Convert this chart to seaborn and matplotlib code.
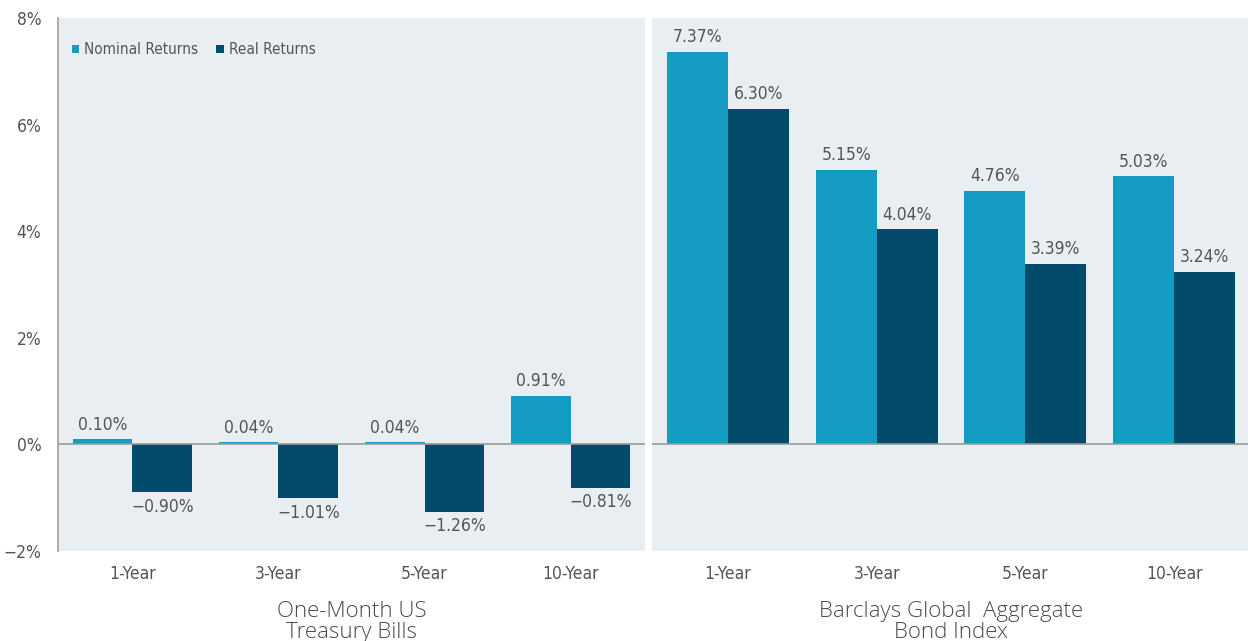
import matplotlib.pyplot as plt
import pandas as pd
import seaborn as sns

periods = ["1-Year", "3-Year", "5-Year", "10-Year"]
tbill_nominal = [0.10, 0.04, 0.04, 0.91]
tbill_real = [-0.90, -1.01, -1.26, -0.81]
bond_nominal = [7.37, 5.15, 4.76, 5.03]
bond_real = [6.30, 4.04, 3.39, 3.24]
panel_titles = ["One-Month US\nTreasury Bills", "Barclays Global  Aggregate\nBond Index"]
yticks = [-2, 0, 2, 4, 6, 8]

NOMINAL = "#159cc2"
REAL = "#024b6b"
BG = "#e8eef2"
TXT = "#555555"

sns.set_theme(style="white")
plt.rcParams["font.family"] = ["DejaVu Sans"]
plt.rcParams["font.stretch"] = "condensed"


def make_df(nominal, real):
    rows = []
    for p, n, r in zip(periods, nominal, real):
        rows.append({"period": p, "kind": "Nominal Returns", "value": n})
        rows.append({"period": p, "kind": "Real Returns", "value": r})
    return pd.DataFrame(rows)


def fmt(v):
    s = f"{abs(v):.2f}%"
    return ("\u2212" + s) if v < 0 else s


W, H = 1248, 641
fig = plt.figure(figsize=(W / 100, H / 100), dpi=100)
bottom = (H - 551) / H
height = (551 - 18) / H
ax1 = fig.add_axes([58 / W, bottom, 587 / W, height])
ax2 = fig.add_axes([652 / W, bottom, 598 / W, height])

data = [(ax1, tbill_nominal, tbill_real), (ax2, bond_nominal, bond_real)]
for i, (ax, nom, real) in enumerate(data):
    df = make_df(nom, real)
    sns.barplot(
        data=df, x="period", y="value", hue="kind", ax=ax,
        palette=[NOMINAL, REAL], width=0.82, saturation=1, legend=(i == 0),
        linewidth=0,
    )
    ax.set_facecolor(BG)
    ax.set_ylim(-2, 8)
    ax.set_xlim(-0.51, 3.51)
    ax.axhline(0, color="#9a9a9a", lw=1.2, zorder=1)
    for cont, vals in zip(ax.containers, [nom, real]):
        ax.bar_label(cont, labels=[fmt(v) for v in vals], padding=4,
                     fontsize=12.5, color=TXT)
    ax.set_xlabel(panel_titles[i], fontsize=16, color="#4a4a4a", labelpad=13,
                  family=["Open Sans", "DejaVu Sans"], fontweight="light",
                  fontstretch="normal", linespacing=1.0)
    ax.set_ylabel("")
    ax.tick_params(axis="x", length=0, pad=10, labelsize=12.5, labelcolor=TXT)
    for s in ax.spines.values():
        s.set_visible(False)
    if i == 0:
        ax.set_yticks(yticks)
        ax.set_yticklabels([("\u2212" if t < 0 else "") + f"{abs(t)}%" for t in yticks])
        ax.tick_params(axis="y", length=0, pad=12, labelsize=12.5, labelcolor=TXT)
        ax.spines["left"].set_visible(True)
        ax.spines["left"].set_color("#a0a0a0")
        ax.spines["left"].set_linewidth(1.2)
        ax.legend(loc="upper left", bbox_to_anchor=(0.0, 0.98), ncol=2,
                  frameon=False, fontsize=11, handlelength=0.5,
                  handleheight=0.5, handletextpad=0.3, columnspacing=1.2,
                  labelcolor=TXT)
    else:
        ax.set_yticks([])

fig.savefig("out.png", dpi=100, facecolor="white")
